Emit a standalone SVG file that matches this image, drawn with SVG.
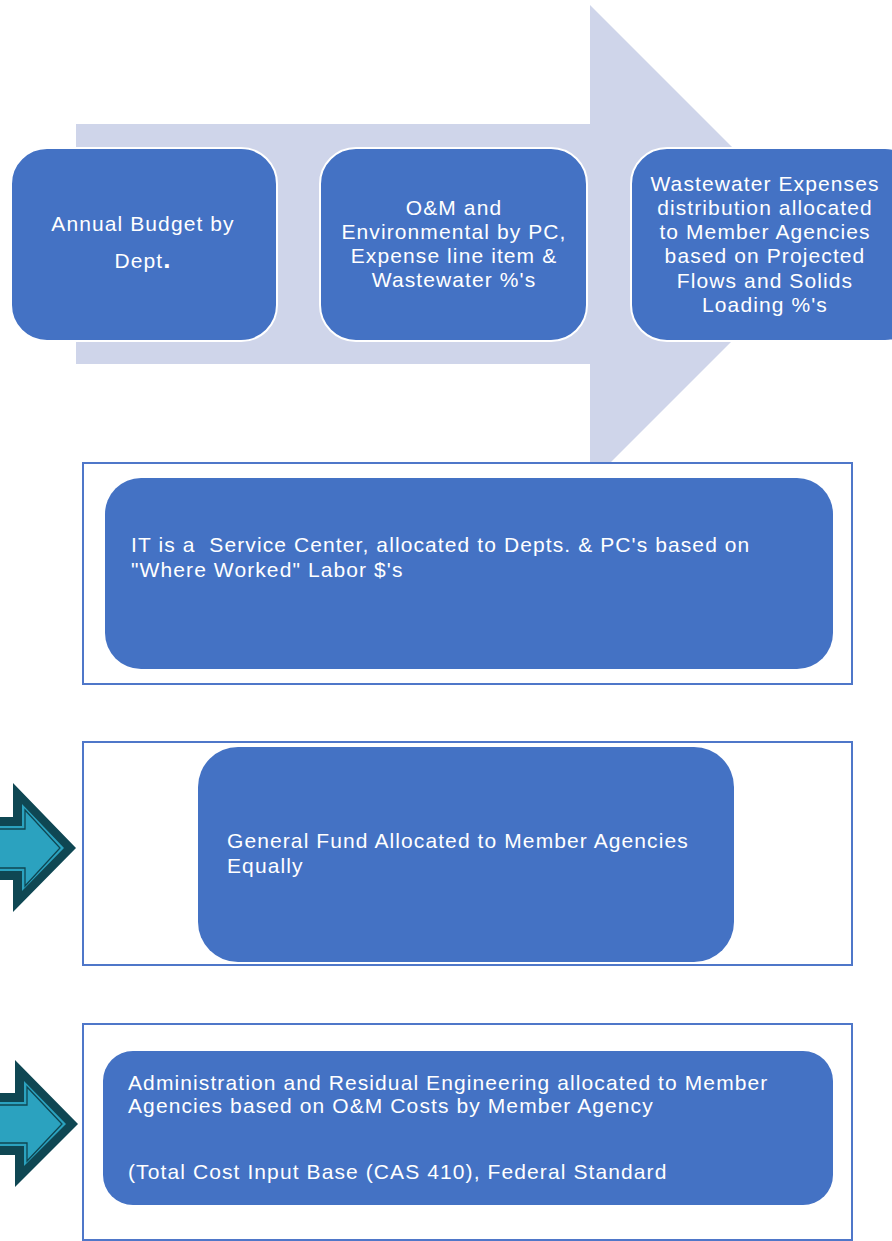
<svg xmlns="http://www.w3.org/2000/svg" width="892" height="1241" viewBox="0 0 892 1241">
<style>
.node{fill:#4472c4}
.top{stroke:#ffffff;stroke-width:2}
.frame{fill:#ffffff;stroke:#4f77c9;stroke-width:2}
.t{font-family:"Liberation Sans",Arial,sans-serif;font-size:21px;letter-spacing:1.1px;fill:#ffffff;white-space:pre}
.c{text-anchor:middle}
.dark{fill:#0f4753}
.teal{fill:#2ba2bf}
.line{fill:none;stroke:#0f4753;stroke-width:1.3}
</style>
<g id="connectors">
<polygon id="big-arrow" points="76,124 590,124 590,5 829,244 590,483 590,364 76,364" fill="#cfd5ea"/>
<g id="teal-arrow-1">
<polygon class="dark" points="-10,817 13,817 13,783 76,848 13,912 13,880 -10,880"/>
<polygon class="teal" points="-10,826 22,826 22,804 64,848 22,891 22,871 -10,871"/>
<polygon class="line" points="-10,829 25,829 25,810 60,848 25,886 25,868 -10,868"/>
</g>
<g id="teal-arrow-2">
<polygon class="dark" points="-10,1093 15,1093 15,1060 78,1124 15,1187 15,1155 -10,1155"/>
<polygon class="teal" points="-10,1102 24,1102 24,1081 66,1124 24,1166 24,1146 -10,1146"/>
<polygon class="line" points="-10,1105 27,1105 27,1087 62,1124 27,1161 27,1143 -10,1143"/>
</g>
</g>
<g id="node-annual-budget">
<rect class="node top" x="11" y="148" width="266" height="193" rx="36"/>
<text class="t c" x="143" y="231">Annual Budget by</text>
<text class="t c" x="143" y="268">Dept<tspan font-size="26" font-weight="bold">.</tspan></text>
</g>
<g id="node-om">
<rect class="node top" x="320" y="148" width="267" height="193" rx="36"/>
<text class="t c" x="454" y="215">O&amp;M and</text>
<text class="t c" x="454" y="239">Environmental by PC,</text>
<text class="t c" x="454" y="263">Expense line item &amp;</text>
<text class="t c" x="454" y="287">Wastewater %'s</text>
</g>
<g id="node-wastewater">
<rect class="node top" x="631" y="148" width="290" height="193" rx="36"/>
<text class="t c" x="765" y="191">Wastewater Expenses</text>
<text class="t c" x="765" y="215">distribution allocated</text>
<text class="t c" x="765" y="239">to Member Agencies</text>
<text class="t c" x="765" y="263">based on Projected</text>
<text class="t c" x="765" y="288">Flows and Solids</text>
<text class="t c" x="765" y="312">Loading %'s</text>
</g>
<g id="node-it">
<rect class="frame" x="83" y="463" width="769" height="221"/>
<rect class="node" x="105" y="478" width="728" height="191" rx="36"/>
<text class="t" x="131" y="552" xml:space="preserve">IT is a  Service Center, allocated to Depts. &amp; PC's based on</text>
<text class="t" x="131" y="577">"Where Worked" Labor $'s</text>
</g>
<g id="node-general-fund">
<rect class="frame" x="83" y="742" width="769" height="223"/>
<rect class="node" x="198" y="747" width="536" height="215" rx="40"/>
<text class="t" x="227" y="848">General Fund Allocated to Member Agencies</text>
<text class="t" x="227" y="873">Equally</text>
</g>
<g id="node-administration">
<rect class="frame" x="83" y="1024" width="769" height="216"/>
<rect class="node" x="103" y="1051" width="730" height="154" rx="30"/>
<text class="t" x="128" y="1090">Administration and Residual Engineering allocated to Member</text>
<text class="t" x="128" y="1113">Agencies based on O&amp;M Costs by Member Agency</text>
<text class="t" x="128" y="1179">(Total Cost Input Base (CAS 410), Federal Standard</text>
</g>
</svg>
